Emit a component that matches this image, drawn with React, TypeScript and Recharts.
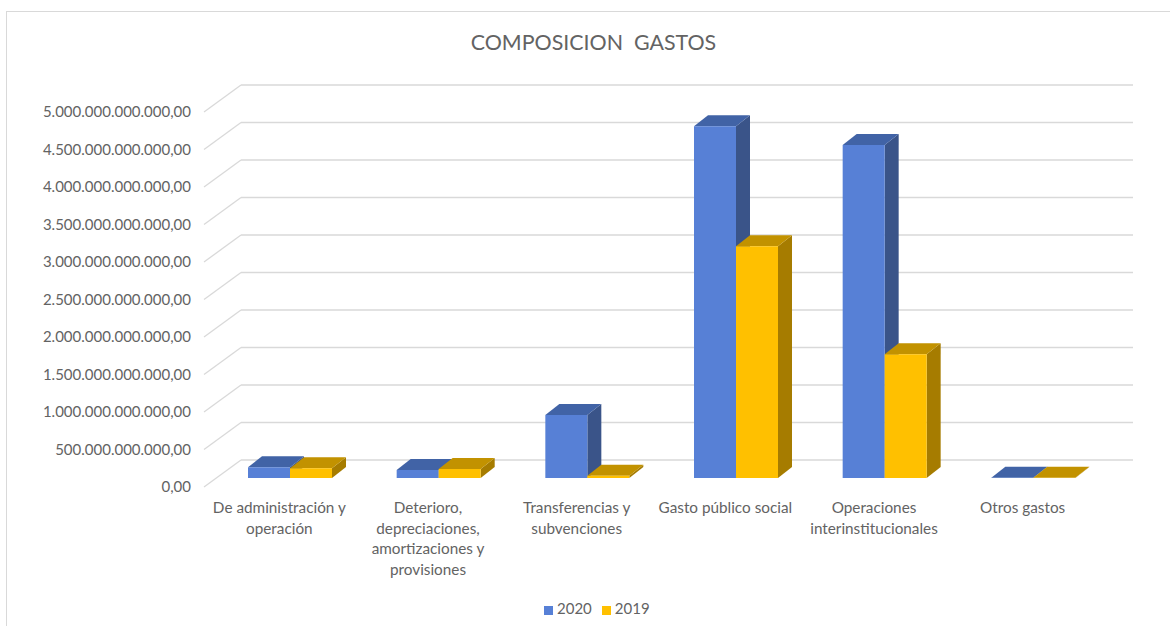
import React from "react";
import { BarChart, Bar, XAxis, YAxis, CartesianGrid, Legend } from "recharts";

const categories = [
  "De administración y\noperación",
  "Deterioro,\ndepreciaciones,\namortizaciones y\nprovisiones",
  "Transferencias y\nsubvenciones",
  "Gasto público social",
  "Operaciones\ninterinstitucionales",
  "Otros gastos",
];
const values2020 = [143e9, 107e9, 840e9, 4690e9, 4440e9, 3e9];
const values2019 = [130e9, 120e9, 30e9, 3090e9, 1650e9, 2e9];
const yTicks = [0, 5e11, 1e12, 1.5e12, 2e12, 2.5e12, 3e12, 3.5e12, 4e12, 4.5e12, 5e12];

const data = categories.map((name, i) => ({ name, y2020: values2020[i], y2019: values2019[i] }));

const FONT = "Lato, 'Open Sans', sans-serif";
const TEXT = "#636363";
const GRID = "#d9d9d9";
const WALL_DX = 37;
const WALL_DY = -27;
const BAR_SHIFT_X = 12;
const BAR_SHIFT_Y = -9;
const DEPTH_X = 14;
const DEPTH_Y = -11;

const formatMoney = (v: number) =>
  String(Math.round(v)).replace(/\B(?=(\d{3})+(?!\d))/g, ".") + ",00";

const gridLine = (props: any) => {
  const { x1, x2, y1, index } = props;
  const yBack = y1 + WALL_DY;
  return (
    <g key={`g-${index}-${y1}`}>
      <line x1={x1} y1={y1} x2={x1 + WALL_DX} y2={yBack} stroke={GRID} strokeWidth={1.3} />
      <line x1={x1 + WALL_DX} y1={yBack} x2={x2 + WALL_DX} y2={yBack} stroke={GRID} strokeWidth={1.3} />
    </g>
  );
};

const box3d = (front: string, top: string, side: string) => (props: any) => {
  const { x, y, width, height } = props;
  const l = x + BAR_SHIFT_X;
  const r = l + width;
  const t = y + BAR_SHIFT_Y;
  const b = t + height;
  return (
    <g>
      <polygon
        points={`${r},${t} ${r + DEPTH_X},${t + DEPTH_Y} ${r + DEPTH_X},${b + DEPTH_Y} ${r},${b}`}
        fill={side}
      />
      <polygon
        points={`${l},${t} ${l + DEPTH_X},${t + DEPTH_Y} ${r + DEPTH_X},${t + DEPTH_Y} ${r},${t}`}
        fill={top}
      />
      <rect x={l} y={t} width={width} height={height} fill={front} />
    </g>
  );
};

const CategoryTick = (props: any) => {
  const { x, y, payload } = props;
  const lines = String(payload.value).split("\n");
  return (
    <text x={x + 1} y={y} textAnchor="middle" fill={TEXT} fontFamily={FONT} fontSize={15.3}>
      {lines.map((line, i) => (
        <tspan key={i} x={x + 1} dy={i === 0 ? 0 : 20.7}>
          {line}
        </tspan>
      ))}
    </text>
  );
};

export default function App() {
  return (
    <div style={{ position: "absolute", left: 0, top: 0, width: 1170, height: 626, background: "#fff", overflow: "hidden" }}>
      <div
        style={{
          position: "absolute",
          left: 6,
          top: 11,
          width: 1164,
          height: 615,
          borderLeft: `1px solid ${GRID}`,
          borderTop: `1px solid ${GRID}`,
        }}
      />
      <div
        style={{
          position: "absolute",
          left: 0,
          width: 1187,
          top: 29,
          textAlign: "center",
          fontFamily: FONT,
          fontSize: 21.4,
          color: TEXT,
          whiteSpace: "pre",
        }}
      >
        COMPOSICION  GASTOS
      </div>
      <div style={{ position: "absolute", left: 0, top: 0 }}>
        <BarChart
          width={1170}
          height={626}
          data={data}
          margin={{ top: 112, right: 74, left: 0, bottom: 0 }}
          barCategoryGap={32}
          barGap={0}
        >
          <CartesianGrid horizontal={gridLine as any} vertical={false} />
          <XAxis
            dataKey="name"
            interval={0}
            height={121}
            axisLine={false}
            tickLine={false}
            tickSize={0}
            tickMargin={0}
            tick={(p: any) => <CategoryTick {...p} y={p.y + 26} />}
          />
          <YAxis
            width={204}
            domain={[0, 5e12]}
            ticks={yTicks}
            interval={0}
            axisLine={false}
            tickLine={false}
            tickSize={0}
            tickMargin={13}
            tickFormatter={formatMoney}
            tick={{ fill: TEXT, fontFamily: FONT, fontSize: 15, dy: 0 }}
          />
          <Legend
            layout="horizontal"
            align="left"
            verticalAlign="bottom"
            iconType="square"
            iconSize={9}
            height={0}
            itemSorter={(item: any) => -Number(item.value)}
            wrapperStyle={{ position: "absolute", left: 544, bottom: 9, width: 130, fontFamily: FONT, fontSize: 15 }}
            formatter={(v: string) => <span style={{ color: TEXT }}>{v}</span>}
          />
          <Bar dataKey="y2020" name="2020" fill="#5780D6" isAnimationActive={false} shape={box3d("#5780D6", "#4163A6", "#3A5489")} />
          <Bar dataKey="y2019" name="2019" fill="#FFC000" isAnimationActive={false} shape={box3d("#FFC000", "#C29200", "#A67C00")} />
        </BarChart>
      </div>
    </div>
  );
}
